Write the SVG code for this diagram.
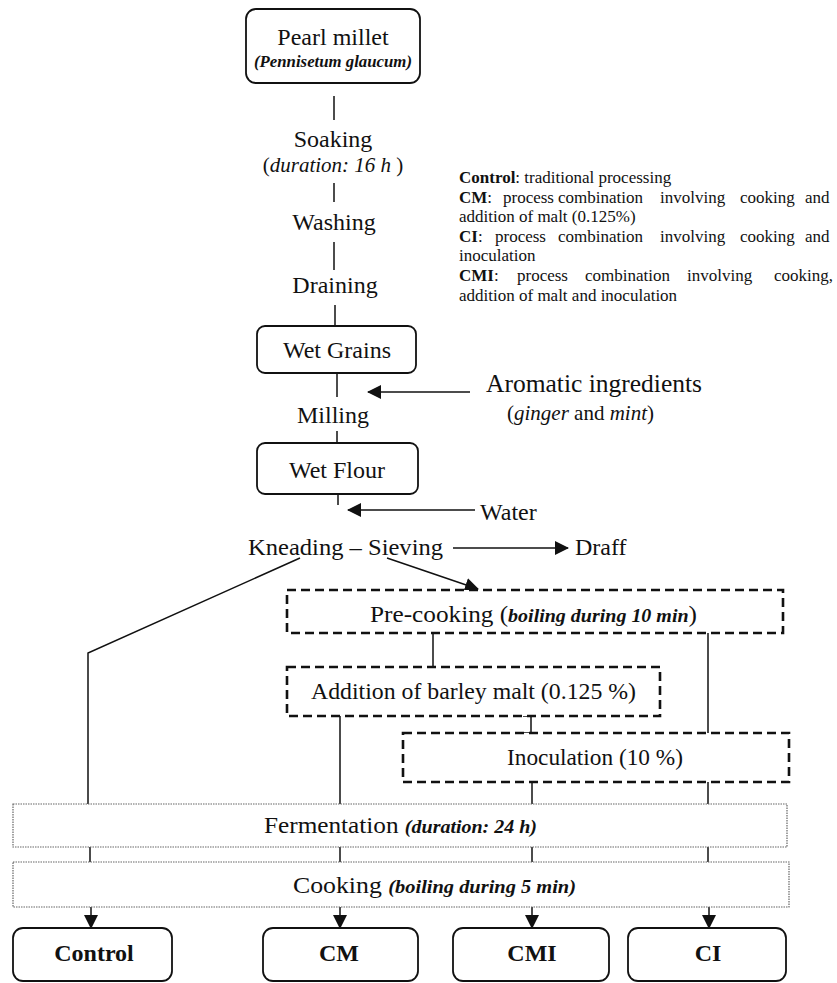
<svg xmlns="http://www.w3.org/2000/svg" width="837" height="983" viewBox="0 0 837 983">
<style>
text{font-family:"Liberation Serif","Times New Roman",serif;fill:#111}
.m{font-size:24px}
.it{font-style:italic}
.bi{font-style:italic;font-weight:bold}
.b{font-weight:bold}
.lg{font-size:17px}
.solid{fill:#fff;stroke:#111;stroke-width:1.8}
.dash{fill:#fff;stroke:#111;stroke-width:2.6;stroke-dasharray:9 5}
.dot{fill:#fff;stroke:#666;stroke-width:1.2;stroke-dasharray:1.5 1}
.ln{stroke:#111;stroke-width:1.5;fill:none}
</style>
<defs>
<marker id="ahb" markerWidth="14" markerHeight="14" refX="13" refY="7" orient="auto" markerUnits="userSpaceOnUse">
<path d="M0,0 L14,7 L0,14 z" fill="#111"/>
</marker>
</defs>

<g id="connectors">
<line class="ln" x1="334" y1="96" x2="334" y2="120"/>
<line class="ln" x1="334" y1="183" x2="334" y2="202"/>
<line class="ln" x1="334" y1="242" x2="334" y2="270" stroke-width="2"/>
<line class="ln" x1="335" y1="305" x2="335" y2="326"/>
<line class="ln" x1="337" y1="373" x2="337" y2="397"/>
<line class="ln" x1="470" y1="392" x2="368" y2="392" marker-end="url(#ahb)"/>
<line class="ln" x1="337" y1="431" x2="337" y2="443"/>
<line class="ln" x1="338" y1="494" x2="338" y2="505"/>
<line class="ln" x1="475" y1="510" x2="348" y2="510" marker-end="url(#ahb)"/>
<line class="ln" x1="453" y1="548" x2="568" y2="548" marker-end="url(#ahb)"/>
<polyline class="ln" points="300,558 88,653 88,804"/>
<line class="ln" x1="387" y1="558" x2="478" y2="589" marker-end="url(#ahb)"/>
<line class="ln" x1="433" y1="633" x2="433" y2="667"/>
<line class="ln" x1="708" y1="633" x2="708" y2="733"/>
<line class="ln" x1="340" y1="716" x2="340" y2="804"/>
<path class="ln" d="M523,716 H531 V733 H523"/>
<line class="ln" x1="532" y1="782" x2="532" y2="804"/>
<line class="ln" x1="708" y1="782" x2="708" y2="804"/>
<line class="ln" x1="90" y1="847" x2="90" y2="862"/>
<line class="ln" x1="340" y1="847" x2="340" y2="862"/>
<line class="ln" x1="532" y1="847" x2="532" y2="862"/>
<line class="ln" x1="708" y1="847" x2="708" y2="862"/>
<line class="ln" x1="91" y1="907" x2="91" y2="928" marker-end="url(#ahb)"/>
<line class="ln" x1="340" y1="907" x2="340" y2="928" marker-end="url(#ahb)"/>
<line class="ln" x1="532" y1="907" x2="532" y2="928" marker-end="url(#ahb)"/>
<line class="ln" x1="709" y1="907" x2="709" y2="928" marker-end="url(#ahb)"/>
</g>

<g id="pearl-millet">
<rect class="solid" x="246" y="9" width="174" height="74" rx="10"/>
<text class="m" x="333" y="45" text-anchor="middle" font-size="25">Pearl millet</text>
<text class="bi" x="333" y="67" text-anchor="middle" font-size="16" textLength="158" lengthAdjust="spacingAndGlyphs">(Pennisetum glaucum)</text>
</g>

<g id="soaking">
<text class="m" x="333" y="147" text-anchor="middle">Soaking</text>
<text x="333" y="172" text-anchor="middle" font-size="21">(<tspan class="it">duration: 16 h</tspan> )</text>
</g>

<g id="washing">
<text class="m" x="334" y="230" text-anchor="middle">Washing</text>
</g>

<g id="draining">
<text class="m" x="335" y="293" text-anchor="middle">Draining</text>
</g>

<g id="legend">
<text class="lg" x="459" y="183"><tspan class="b">Control</tspan>: traditional processing</text>
<text class="lg" y="203"><tspan x="459" class="b">CM</tspan><tspan>:</tspan><tspan x="503">process</tspan><tspan x="558">combination</tspan><tspan x="660">involving</tspan><tspan x="740">cooking</tspan><tspan x="805">and</tspan></text>
<text class="lg" x="459" y="222">addition of malt (0.125%)</text>
<text class="lg" y="242"><tspan x="459" class="b">CI</tspan><tspan>:</tspan><tspan x="495">process</tspan><tspan x="558">combination</tspan><tspan x="660">involving</tspan><tspan x="740">cooking</tspan><tspan x="805">and</tspan></text>
<text class="lg" x="459" y="261">inoculation</text>
<text class="lg" y="281"><tspan x="459" class="b">CMI</tspan><tspan>:</tspan><tspan x="517">process</tspan><tspan x="585">combination</tspan><tspan x="687">involving</tspan><tspan x="774">cooking,</tspan></text>
<text class="lg" x="459" y="301">addition of malt and inoculation</text>
</g>

<g id="wet-grains">
<rect class="solid" x="257" y="326" width="159" height="47" rx="8"/>
<text class="m" x="337" y="358" text-anchor="middle">Wet Grains</text>
</g>

<g id="aromatic">
<text x="486" y="392" font-size="25.5">Aromatic ingredients</text>
<text x="507" y="420" font-size="21">(<tspan class="it">ginger</tspan> and <tspan class="it">mint</tspan>)</text>
</g>

<g id="milling">
<text class="m" x="333" y="423" text-anchor="middle" font-size="25">Milling</text>
</g>

<g id="wet-flour">
<rect class="solid" x="257" y="443" width="161" height="51" rx="8"/>
<text class="m" x="337" y="478" text-anchor="middle">Wet Flour</text>
</g>

<g id="water">
<text class="m" x="480" y="520">Water</text>
</g>

<g id="kneading">
<text class="m" x="248" y="555" textLength="195" lengthAdjust="spacingAndGlyphs">Kneading – Sieving</text>
</g>

<g id="draff">
<text class="m" x="575" y="555">Draff</text>
</g>

<g id="pre-cooking">
<rect class="dash" x="287" y="590" width="496" height="43"/>
<text class="m" x="370" y="622" textLength="327" lengthAdjust="spacingAndGlyphs">Pre-cooking (<tspan class="bi" font-size="19">boiling during 10 min</tspan>)</text>
</g>

<g id="malt">
<rect class="dash" x="287" y="667" width="373" height="49"/>
<text class="m" x="311" y="699" textLength="325" lengthAdjust="spacingAndGlyphs">Addition of barley malt (0.125 %)</text>
</g>

<g id="inoculation">
<rect class="dash" x="403" y="733" width="386" height="49"/>
<text class="m" x="507" y="765" textLength="176" lengthAdjust="spacingAndGlyphs">Inoculation (10 %)</text>
</g>

<g id="fermentation">
<rect class="dot" x="13" y="804" width="774" height="43"/>
<text class="m" x="264" y="833" textLength="273" lengthAdjust="spacingAndGlyphs">Fermentation <tspan class="bi" font-size="19">(duration: 24 h)</tspan></text>
</g>

<g id="cooking">
<rect class="dot" x="13" y="862" width="776" height="45"/>
<text class="m" x="293" y="893" textLength="283" lengthAdjust="spacingAndGlyphs">Cooking <tspan class="bi" font-size="19">(boiling during 5 min)</tspan></text>
</g>

<g id="out-control">
<rect class="solid" x="13" y="928" width="159" height="53" rx="10"/>
<text class="m b" x="94" y="961" text-anchor="middle">Control</text>
</g>
<g id="out-cm">
<rect class="solid" x="263" y="928" width="155" height="53" rx="10"/>
<text class="m b" x="339" y="961" text-anchor="middle">CM</text>
</g>
<g id="out-cmi">
<rect class="solid" x="453" y="928" width="156" height="53" rx="10"/>
<text class="m b" x="532" y="961" text-anchor="middle">CMI</text>
</g>
<g id="out-ci">
<rect class="solid" x="628" y="928" width="158" height="53" rx="10"/>
<text class="m b" x="708" y="961" text-anchor="middle">CI</text>
</g>
</svg>
